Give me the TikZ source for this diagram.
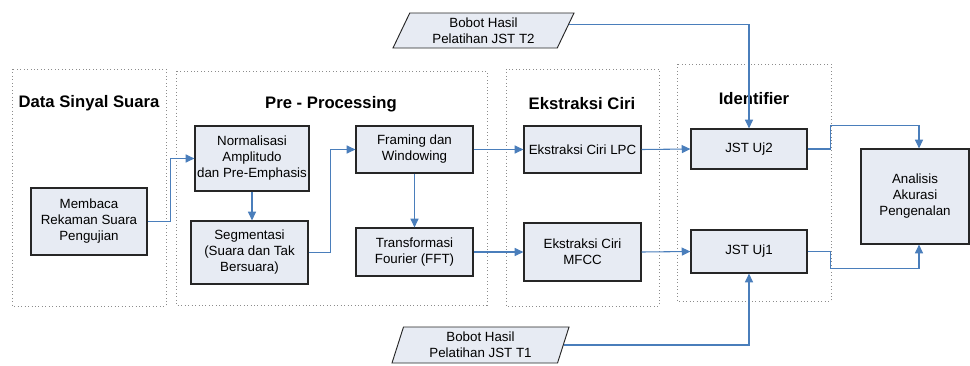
\documentclass[tikz,border=0pt]{standalone}
\usepackage{fontspec}
\setmainfont{Liberation Sans}
\usetikzlibrary{arrows.meta,shapes.geometric,calc}
\definecolor{boxfill}{HTML}{E7EBF3}
\definecolor{flow}{HTML}{4A7EBB}
\definecolor{frame}{HTML}{8C8C8C}
\begin{document}
\begin{tikzpicture}[x=0.75pt,y=-0.75pt,
  sz/.style 2 args={minimum width=#1*0.75pt, minimum height=#2*0.75pt},
  stage/.style={draw=black!85, line width=0.9pt, fill=boxfill, align=center,
    font=\fontsize{10}{12}\selectfont, inner sep=1pt},
  group/.style={draw=frame, dotted, line width=0.6pt},
  title/.style={font=\fontsize{12.5}{14}\selectfont\bfseries},
  flowline/.style={draw=flow, line width=0.8pt, -{Triangle[length=6.5pt,width=6pt]}},
  weights/.style={trapezium, trapezium stretches body, draw=black!85, line width=0.7pt,
    fill=boxfill, align=center, font=\fontsize{10}{12}\selectfont, inner sep=0pt}
]
\useasboundingbox (0,0) rectangle (970,365);

% dotted stage groups
\draw[group] (12,69) rectangle (166,306);
\draw[group] (176,71) rectangle (487,305);
\draw[group] (506,69) rectangle (659,306);
\draw[group] (677,64) rectangle (831,301);

% group titles
\node[title] (tdss) at (89,103) {Data Sinyal Suara};
\node[title] (tpre) at (331,104) {Pre - Processing};
\node[title] (teks) at (582,104) {Ekstraksi Ciri};
\node[title] (tidf) at (754,99) {Identifier};

% processing blocks
\node[stage, sz={116}{67}] (mem) at (89,221.5) {Membaca\\Rekaman Suara\\Pengujian};
\node[stage, sz={114}{65}] (norm) at (252,158.5) {Normalisasi\\Amplitudo\\dan Pre-Emphasis};
\node[stage, sz={117}{63}] (seg) at (249.5,252.5) {Segmentasi\\(Suara dan Tak\\Bersuara)};
\node[stage, sz={117}{47}] (fw) at (414.5,149.5) {Framing dan\\Windowing};
\node[stage, sz={117}{48}] (fft) at (414.5,252) {Transformasi\\Fourier (FFT)};
\node[stage, sz={117}{47}] (lpc) at (582.5,149.5) {Ekstraksi Ciri LPC};
\node[stage, sz={117}{58}] (mfcc) at (582.5,252) {Ekstraksi Ciri\\MFCC};
\node[stage, sz={116}{40}] (uj2) at (749,149) {JST Uj2};
\node[stage, sz={116}{43}] (uj1) at (749,251.5) {JST Uj1};
\node[stage, sz={108}{95}] (ana) at (915,196.5) {Analisis\\Akurasi\\Pengenalan};

% trained weight inputs
\node[weights, sz={181}{35}, trapezium left angle=57, trapezium right angle=123]
  (wt2) at (483.5,30.5) {Bobot Hasil\\Pelatihan JST T2};
\node[weights, sz={177}{36}, trapezium left angle=66, trapezium right angle=114]
  (wt1) at (480.5,345) {Bobot Hasil\\Pelatihan JST T1};

% connectors
\draw[flowline] (mem.east) -- ++(23,0) |- (norm.west);
\draw[flowline] (norm.south) -- (norm.south |- seg.north);
\draw[flowline] (seg.east) -- ++(22,0) |- (fw.west);
\draw[flowline] (fw.south) -- (fft.north);
\draw[flowline] (fw.east) -- (lpc.west);
\draw[flowline] (fft.east) -- (mfcc.west);
\draw[flowline] (lpc.east) -- (uj2.west);
\draw[flowline] (mfcc.east) -- (uj1.west);
\coordinate (t2out) at ($(wt2.top right corner)!0.34!(wt2.bottom right corner)$);
\draw[flowline] (t2out) -| (uj2.north);
\draw[flowline] (wt1.east) -| (uj1.south);
\draw[flowline] (uj2.east) -- ++(23,0) |- ($(ana.north)+(4,-23)$) -- ($(ana.north)+(4,0)$);
\draw[flowline] (uj1.east) -- ++(23,0) |- ($(ana.south)+(4,24)$) -- ($(ana.south)+(4,0)$);
\end{tikzpicture}
\end{document}
